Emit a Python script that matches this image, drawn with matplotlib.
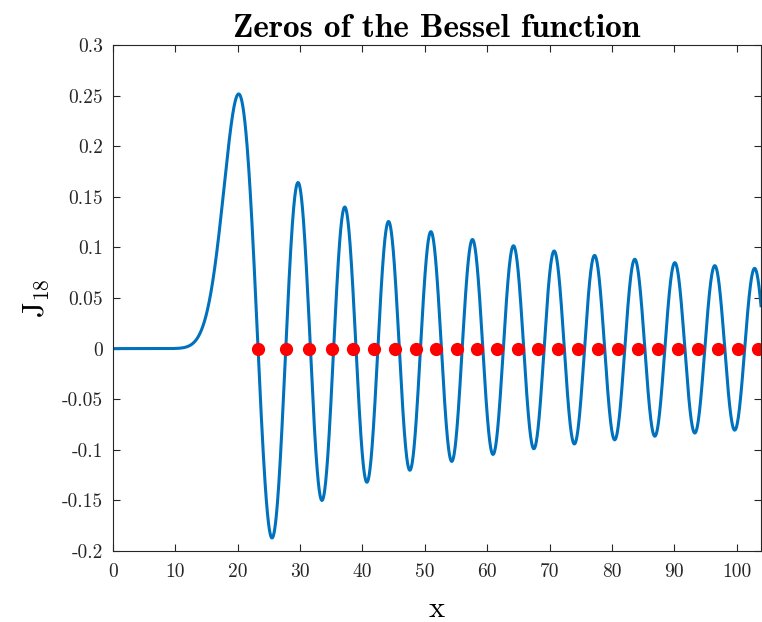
import matplotlib
matplotlib.use('Agg')
import matplotlib.pyplot as plt
import numpy as np

# Bessel function order and plotted range
order = 18
x_max = 103.9

# zeros of J_18 (red dots)
zeros = [23.27, 27.66, 31.48, 35.07, 38.53, 41.92, 45.26, 48.57, 51.86,
         55.14, 58.39, 61.64, 64.88, 68.12, 71.35, 74.57, 77.79, 81.00,
         84.21, 87.42, 90.63, 93.83, 97.03, 100.23, 103.43]

x_ticks = [0, 10, 20, 30, 40, 50, 60, 70, 80, 90, 100]
y_ticks = [-0.2, -0.15, -0.1, -0.05, 0, 0.05, 0.1, 0.15, 0.2, 0.25, 0.3]
y_tick_labels = ['-0.2', '-0.15', '-0.1', '-0.05', '0', '0.05', '0.1',
                 '0.15', '0.2', '0.25', '0.3']

plt.rcParams['font.family'] = 'serif'
plt.rcParams['font.serif'] = ['cmr10']
plt.rcParams['mathtext.fontset'] = 'cm'
plt.rcParams['axes.unicode_minus'] = False
plt.rcParams['axes.formatter.use_mathtext'] = True


def bessel_j(n, x):
    # integral form J_n(x) = 1/pi * int_0^pi cos(n t - x sin t) dt
    t = np.linspace(0, np.pi, 4001)
    vals = np.cos(n * t[None, :] - x[:, None] * np.sin(t[None, :]))
    return np.trapezoid(vals, t, axis=1) / np.pi


x = np.linspace(0, x_max, 3000)
y = bessel_j(order, x)

fig = plt.figure(figsize=(7.62, 6.22), dpi=100)
ax = fig.add_axes([0.1483, 0.1141, 0.8504, 0.8136])

ax.plot(x, y, color='#0072BD', linewidth=2.2)
ax.plot(zeros, np.zeros(len(zeros)), 'o', color='red', markersize=8.5,
        linestyle='none', clip_on=False)

ax.set_xlim(0, x_max)
ax.set_ylim(-0.2, 0.3)
ax.set_xticks(x_ticks)
ax.set_xticklabels([str(v) for v in x_ticks])
ax.set_yticks(y_ticks)
ax.set_yticklabels(y_tick_labels)
ax.tick_params(direction='in', top=True, right=True, labelsize=14,
               length=5, width=0.8, colors='#262626', labelcolor='#262626')
ax.tick_params(axis='x', pad=9)
ax.tick_params(axis='y', pad=7)
for s in ax.spines.values():
    s.set_color('#262626')
    s.set_linewidth(0.8)

ax.set_title('Zeros of the Bessel function', fontfamily='cmb10',
             fontsize=24, pad=6)
ax.set_xlabel(r'$\mathrm{x}$', fontsize=22, labelpad=10)
ax.set_ylabel(r'$\mathrm{J}_{18}$', fontsize=22, labelpad=8)

fig.savefig('out.png', dpi=100)
